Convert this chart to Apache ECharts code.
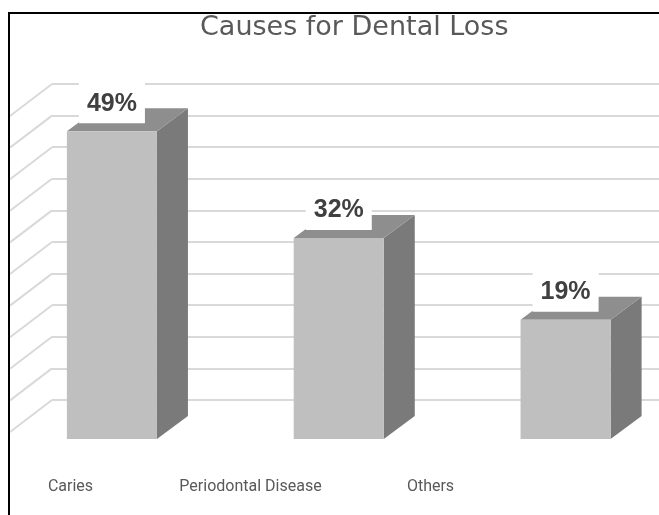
<!DOCTYPE html>
<html>
<head>
<meta charset="utf-8">
<title>Causes for Dental Loss</title>
<script src="https://cdn.jsdelivr.net/npm/echarts@6/dist/echarts.min.js"></script>
<style>
  html, body { margin: 0; padding: 0; background: #fff; }
  #main { width: 659px; height: 515px; }
</style>
</head>
<body>
<div id="main"></div>
<script>
// data
var categories = ['Caries', 'Periodontal Disease', 'Others'];
var values = [49, 32, 19];
var wallTicks = [0, 5, 10, 15, 20, 25, 30, 35, 40, 45, 50];

// 3d look
var depth = [31, -23];   // bar depth offset
var slant = [-42, 32];   // left wall slant

var chart = echarts.init(document.getElementById('main'));

var option = {
    animation: false,
    title: {
        text: 'Causes for Dental Loss',
        left: 200,
        top: 14,
        padding: 0,
        textStyle: { fontFamily: 'DejaVu Sans', fontSize: 27, fontWeight: 'normal', color: '#595959' }
    },
    graphic: [{
        type: 'rect',
        z: 100,
        shape: { x: 9, y: 13, width: 700, height: 600 },
        style: { fill: 'none', stroke: '#000', lineWidth: 2 }
    }],
    grid: [
        // back wall
        { left: 52, right: 0, top: 84, bottom: 115, outerBoundsMode: 'none' },
        // bars
        { left: -1.5, right: -20, top: 125, bottom: 76, outerBoundsMode: 'none' },
        // category labels
        { left: -19.5, right: 138.5, top: 440, bottom: 45, outerBoundsMode: 'none' }
    ],
    xAxis: [
        { gridIndex: 0, type: 'value', min: 0, max: 1, show: false },
        { gridIndex: 1, type: 'category', data: categories, show: false },
        {
            gridIndex: 2, type: 'category', data: categories,
            axisLine: { show: false }, axisTick: { show: false },
            axisLabel: { interval: 0, hideOverlap: false, color: '#595959', fontSize: 16, fontFamily: 'Roboto', margin: 9 }
        }
    ],
    yAxis: [
        {
            gridIndex: 0, type: 'value', min: 0, max: 50, interval: 5,
            axisLabel: { show: false }, axisLine: { show: false }, axisTick: { show: false },
            splitLine: { lineStyle: { color: '#d9d9d9', width: 2 } }
        },
        { gridIndex: 1, type: 'value', min: 0, max: 50, show: false },
        { gridIndex: 2, type: 'value', show: false }
    ],
    series: [
        {
            // slanted lines on the left wall
            type: 'custom',
            xAxisIndex: 0,
            yAxisIndex: 0,
            silent: true,
            data: wallTicks.map(function (v) { return [0, v]; }),
            renderItem: function (params, api) {
                var p = api.coord([0, api.value(1)]);
                return {
                    type: 'line',
                    shape: { x1: p[0], y1: p[1], x2: p[0] + slant[0], y2: p[1] + slant[1] },
                    style: { stroke: '#d9d9d9', lineWidth: 2 }
                };
            }
        },
        {
            type: 'custom',
            xAxisIndex: 1,
            yAxisIndex: 1,
            data: values.map(function (v, i) { return [i, v]; }),
            renderItem: function (params, api) {
                var top = api.coord([api.value(0), api.value(1)]);
                var base = api.coord([api.value(0), 0]);
                var w = api.size([1, 0])[0] * 0.397;
                var x0 = top[0] - w / 2, x1 = top[0] + w / 2;
                var dx = depth[0], dy = depth[1];
                return {
                    type: 'group',
                    children: [
                        {
                            type: 'polygon',
                            shape: { points: [[x1, top[1]], [x1 + dx, top[1] + dy], [x1 + dx, base[1] + dy], [x1, base[1]]] },
                            style: { fill: '#7a7a7a' }
                        },
                        {
                            type: 'polygon',
                            shape: { points: [[x0, top[1]], [x1, top[1]], [x1 + dx, top[1] + dy], [x0 + dx, top[1] + dy]] },
                            style: { fill: '#8e8e8e' }
                        },
                        {
                            type: 'rect',
                            shape: { x: x0, y: top[1], width: w, height: base[1] - top[1] },
                            style: { fill: '#bfbfbf' }
                        },
                        {
                            type: 'text',
                            x: top[0],
                            y: top[1] - 8,
                            style: {
                                text: api.value(1) + '%',
                                fill: '#404040',
                                font: 'bold 25px "Liberation Sans", Arial, sans-serif',
                                align: 'center',
                                verticalAlign: 'bottom',
                                backgroundColor: '#fff',
                                padding: [10, 8, 7, 8]
                            }
                        }
                    ]
                };
            }
        }
    ]
};

chart.setOption(option);
</script>
</body>
</html>
